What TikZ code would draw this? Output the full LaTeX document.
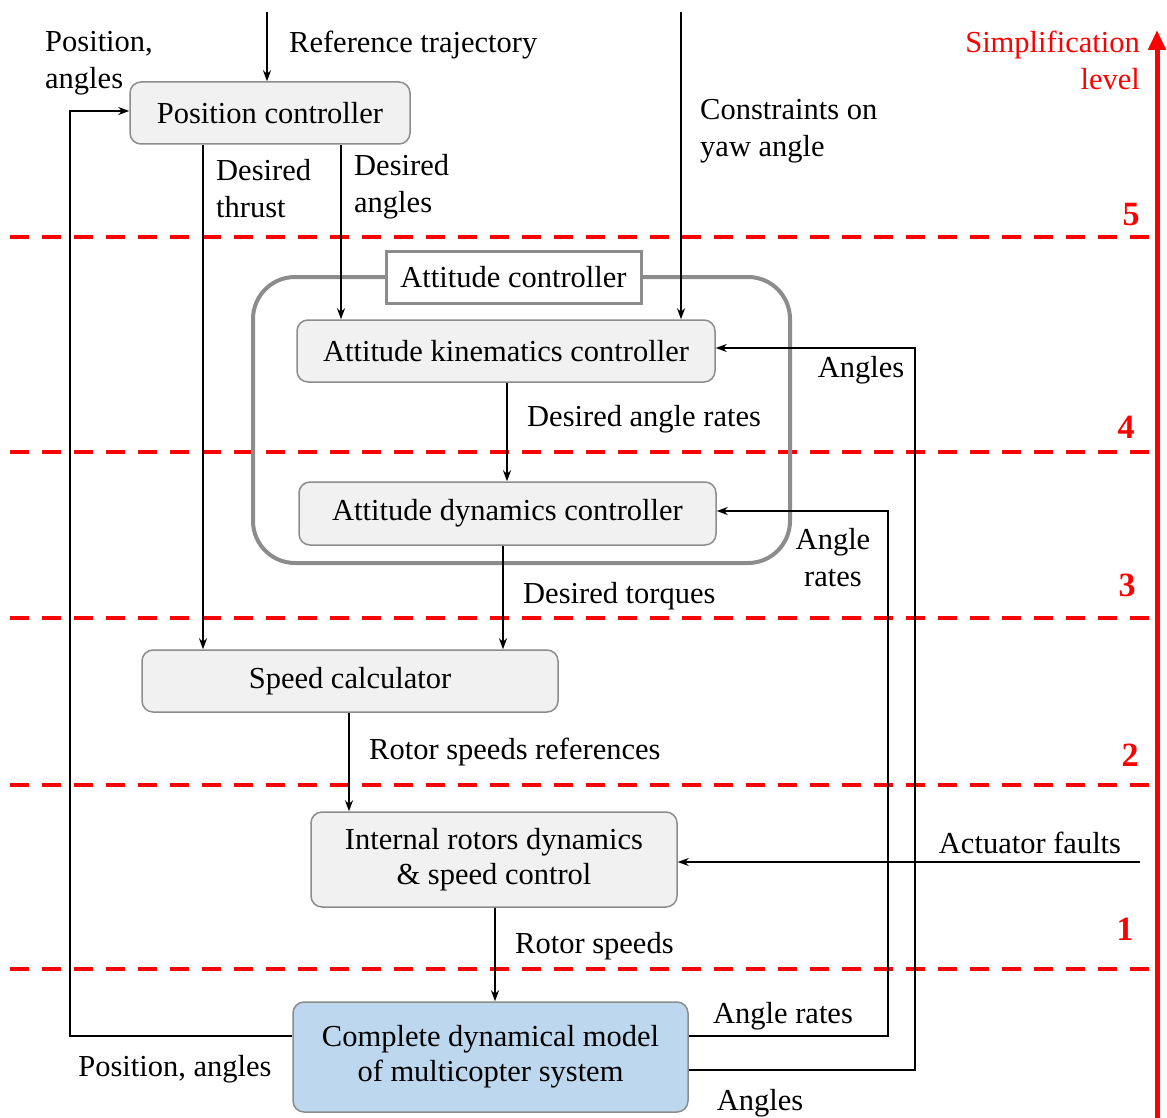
\documentclass[tikz,border=0pt]{standalone}
\usepackage{fontspec}
\setmainfont{Liberation Serif}
\usetikzlibrary{arrows.meta,calc}
\definecolor{boxfill}{HTML}{F1F1F1}
\definecolor{boxline}{HTML}{8C8C8C}
\definecolor{modelfill}{HTML}{BDD7EE}
\definecolor{lvlred}{HTML}{FF0000}
\begin{document}
\begin{tikzpicture}[x=1pt,y=-1pt,
  font=\fontsize{30.5}{37}\selectfont,
  blk/.style={draw=boxline, line width=1.5pt, fill=boxfill, rounded corners=11pt, inner sep=0pt, align=center},
  arr/.style={line width=2pt, -{Stealth[length=11pt,width=8pt]}},
  lbl/.style={anchor=west, align=left, inner sep=0pt},
  lvl/.style={dash pattern=on 19pt off 13pt, line width=4pt},
  num/.style={text=lvlred, font=\fontsize{34}{40}\selectfont\bfseries, inner sep=0pt}]
\useasboundingbox (0,0) rectangle (1167,1118);

% level lines
\foreach \yy in {237,452,618,785,969}
  \draw[lvl, draw=lvlred] (10,\yy) -- (1157,\yy);

% simplification arrow
\draw[draw=lvlred, line width=5pt, -{Triangle[length=20pt,width=17pt]}] (1157,1118) -- (1157,30);
\node[text=lvlred, anchor=east, align=right, inner sep=0pt] (simp) at (1140,60) {Simplification\\level};
\node[num] (n5) at (1131,215) {5};
\node[num] (n4) at (1126,427) {4};
\node[num] (n3) at (1127,585) {3};
\node[num] (n2) at (1130,755) {2};
\node[num] (n1) at (1125,929) {1};

% attitude controller group
\draw[draw=boxline, line width=4pt, rounded corners=42pt] (253,277) rectangle (790,563);
\node[draw=boxline, line width=3pt, fill=white, minimum width=255pt, minimum height=52pt, inner sep=0pt] (att) at (513.5,277) {Attitude controller};

% blocks
\node[blk, minimum width=280pt, minimum height=62pt] (posc) at (270,113) {Position controller};
\node[blk, minimum width=418pt, minimum height=62pt] (kin) at (506,351) {Attitude kinematics controller};
\node[blk, minimum width=417pt, minimum height=63pt] (dyn) at (507.5,513.5) {Attitude dynamics controller};
\node[blk, minimum width=416pt, minimum height=62pt] (speed) at (350,681) {Speed calculator};
\node[blk, minimum width=366pt, minimum height=95pt] (rot) at (494,859.5) {Internal rotors dynamics\\[-2pt]\& speed control};
\node[blk, fill=modelfill, minimum width=395pt, minimum height=110pt] (model) at (490.5,1057) {Complete dynamical model\\[-2pt]of multicopter system};

% inputs from top
\coordinate (reftop) at (267,12);
\coordinate (yawtop) at (681,12);
\draw[arr] (reftop) -- (reftop |- posc.north);
\node[lbl] (reflbl) at (289,45) {Reference trajectory};
\draw[arr] (yawtop) -- (yawtop |- kin.north);
\node[lbl] (yawlbl) at (700,131) {Constraints on\\yaw angle};

% position controller outputs
\draw[arr] (posc.south -| 203,0) -- (speed.north -| 203,0);
\node[lbl] (thrlbl) at (216,189) {Desired\\thrust};
\draw[arr] (posc.south -| 341,0) -- (kin.north -| 341,0);
\node[lbl] (anglbl) at (354,187) {Desired\\angles};

% inner chain
\draw[arr] (kin.south -| 507,0) -- (dyn.north -| 507,0);
\node[lbl] (darlbl) at (527,419) {Desired angle rates};
\draw[arr] (dyn.south -| 503,0) -- (speed.north -| 503,0);
\node[lbl] (dtlbl) at (523,596) {Desired torques};
\draw[arr] (speed.south -| 349,0) -- (rot.north -| 349,0);
\node[lbl] (rsrlbl) at (369,752) {Rotor speeds references};
\draw[arr] (rot.south -| 495,0) -- (model.north -| 495,0);
\node[lbl] (rslbl) at (515,946) {Rotor speeds};

% actuator faults
\coordinate (faultin) at (1140,862);
\draw[arr] (faultin) -- (faultin -| rot.east);
\node[anchor=center, inner sep=0pt] (faultlbl) at (1030,843) {Actuator faults};

% feedback: position, angles
\draw[arr] (model.west |- 0,1036) -- (70,1036) -- (70,111) -- (posc.west |- 0,111);
\node[lbl] (pa1) at (45,63) {Position,\\angles};
\node[anchor=center, inner sep=0pt] (pa2) at (175,1069) {Position, angles};

% feedback: angle rates
\draw[arr] (model.east |- 0,1036) -- (888,1036) -- (888,511) -- (dyn.east |- 0,511);
\node[anchor=center, inner sep=0pt] (ar1) at (783,1016) {Angle rates};
\node[anchor=center, align=center, inner sep=0pt] (ar2) at (833,558) {Angle\\rates};

% feedback: angles
\draw[arr] (model.east |- 0,1070) -- (915,1070) -- (915,348) -- (kin.east |- 0,348);
\node[anchor=center, inner sep=0pt] (an1) at (760,1103) {Angles};
\node[anchor=center, inner sep=0pt] (an2) at (861,370) {Angles};
\end{tikzpicture}
\end{document}
